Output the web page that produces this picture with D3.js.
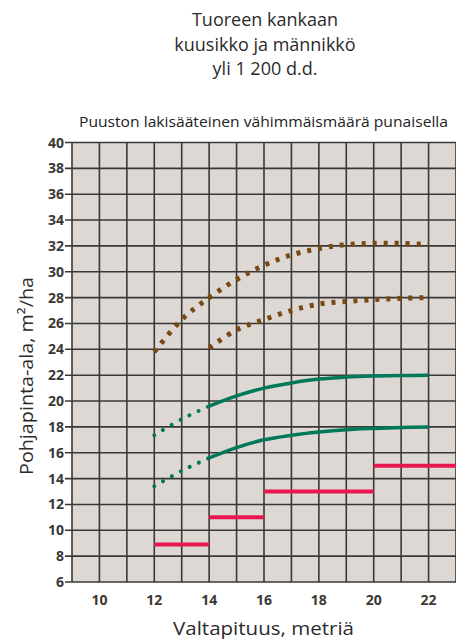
<!DOCTYPE html>
<html lang="fi">
<head>
<meta charset="utf-8">
<title>Tuoreen kankaan kuusikko ja männikkö</title>
<script src="https://d3js.org/d3.v7.min.js"></script>
<style>
  body { margin: 0; background: #fff; }
  text { font-family: "Open Sans", "Noto Sans", sans-serif; }
</style>
</head>
<body>
<div id="chart"></div>
<script>
// valtapituus (m)
var heights = [12, 13, 14, 15, 16, 17, 18, 19, 20, 21, 22];
// ruskeat katkoviivat
var brownUpper = [23.8, 26.3, 28.0, 29.4, 30.5, 31.3, 31.8, 32.1, 32.2, 32.2, 32.1];
var brownLowerHeights = [14, 15, 16, 17, 18, 19, 20, 21, 22];
var brownLower = [24.1, 25.5, 26.3, 27.0, 27.5, 27.7, 27.85, 27.95, 28.0];
// vihreät käyrät (12-14 pisteviiva, 14-22 yhtenäinen)
var greenUpper = [17.35, 18.6, 19.6, 20.4, 21.0, 21.4, 21.7, 21.85, 21.93, 21.97, 22.0];
var greenLower = [13.4, 14.6, 15.6, 16.4, 17.0, 17.35, 17.6, 17.78, 17.88, 17.95, 18.0];
// lakisääteinen vähimmäismäärä
var minStart = [12, 14, 16, 20];
var minEnd = [14, 16, 20, 23];
var minValue = [8.9, 11, 13, 15];

var yTicks = d3.range(6, 41, 2);
var xTicks = [10, 12, 14, 16, 18, 20, 22];
var titleLines = ["Tuoreen kankaan", "kuusikko ja männikkö", "yli 1 200 d.d."];

var W = 456, H = 644;
var svg = d3.select("#chart").append("svg")
    .attr("width", W).attr("height", H);

var x = d3.scaleLinear().domain([9, 23]).range([72, 456]);
var y = d3.scaleLinear().domain([6, 40]).range([582, 142.5]);

// otsikko
svg.selectAll(".title").data(titleLines).enter().append("text")
    .attr("x", 265).attr("y", function(d, i) { return 26 + i * 24.5; })
    .attr("text-anchor", "middle")
    .style("font-size", "18px").style("fill", "#2b2b2b")
    .text(function(d) { return d; });

svg.append("text")
    .attr("x", 79).attr("y", 127)
    .attr("textLength", 369).attr("lengthAdjust", "spacingAndGlyphs")
    .style("font-size", "14px").style("fill", "#222")
    .text("Puuston lakisääteinen vähimmäismäärä punaisella");

// tausta
svg.append("rect")
    .attr("x", x(9)).attr("y", y(40))
    .attr("width", x(23) - x(9)).attr("height", y(6) - y(40))
    .style("fill", "#ddd8d4");

// ruudukko
var g = svg.append("g");
g.selectAll(".vg").data(d3.range(9, 24)).enter().append("line")
    .attr("x1", function(d) { return x(d); }).attr("x2", function(d) { return x(d); })
    .attr("y1", y(40)).attr("y2", y(6))
    .style("stroke", "#3a3836").style("stroke-width", 1.6);
g.selectAll(".hg").data(yTicks).enter().append("line")
    .attr("x1", x(9) - 7).attr("x2", x(23))
    .attr("y1", function(d) { return y(d); }).attr("y2", function(d) { return y(d); })
    .style("stroke", "#3a3836").style("stroke-width", 1.6);

// y-akseli
svg.selectAll(".yl").data(yTicks).enter().append("text")
    .attr("x", 64).attr("y", function(d) { return y(d) + 5; })
    .attr("text-anchor", "end")
    .style("font-size", "14px").style("font-weight", "bold").style("fill", "#3d3833")
    .text(function(d) { return d; });

// x-akseli
svg.selectAll(".xl").data(xTicks).enter().append("text")
    .attr("x", function(d) { return x(d); }).attr("y", 605)
    .attr("text-anchor", "middle")
    .style("font-size", "14px").style("font-weight", "bold").style("fill", "#3d3833")
    .text(function(d) { return d; });

svg.append("text")
    .attr("x", 173).attr("y", 635)
    .attr("textLength", 181).attr("lengthAdjust", "spacingAndGlyphs")
    .style("font-size", "18.5px").style("fill", "#2b2b2b")
    .text("Valtapituus, metriä");

svg.append("text")
    .attr("transform", "translate(33,475) rotate(-90)")
    .attr("textLength", 198).attr("lengthAdjust", "spacingAndGlyphs")
    .style("font-size", "18px").style("fill", "#2b2b2b")
    .text("Pohjapinta-ala, m²/ha");

var line = d3.line()
    .x(function(d) { return x(d[0]); })
    .y(function(d) { return y(d[1]); })
    .curve(d3.curveCatmullRom);

function pairs(xs, ys) { return xs.map(function(v, i) { return [v, ys[i]]; }); }

// ruskeat
[pairs(heights, brownUpper), pairs(brownLowerHeights, brownLower)].forEach(function(p) {
    svg.append("path").attr("d", line(p))
        .style("fill", "none").style("stroke", "#7a4812")
        .style("stroke-width", 5).style("stroke-dasharray", "4 7");
});

// vihreät
[greenUpper, greenLower].forEach(function(vals) {
    var p = pairs(heights, vals);
    svg.append("path").attr("d", line(p.slice(0, 3)))
        .style("fill", "none").style("stroke", "#00785a")
        .style("stroke-width", 4).style("stroke-linecap", "round")
        .style("stroke-dasharray", "0.1 10");
    svg.append("path").attr("d", line(p.slice(2)))
        .style("fill", "none").style("stroke", "#00785a")
        .style("stroke-width", 3.5);
});

// punaiset
svg.selectAll(".min").data(minValue).enter().append("line")
    .attr("x1", function(d, i) { return x(minStart[i]); })
    .attr("x2", function(d, i) { return x(minEnd[i]); })
    .attr("y1", function(d) { return y(d); }).attr("y2", function(d) { return y(d); })
    .style("stroke", "#e8174f").style("stroke-width", 4);
</script>
</body>
</html>
